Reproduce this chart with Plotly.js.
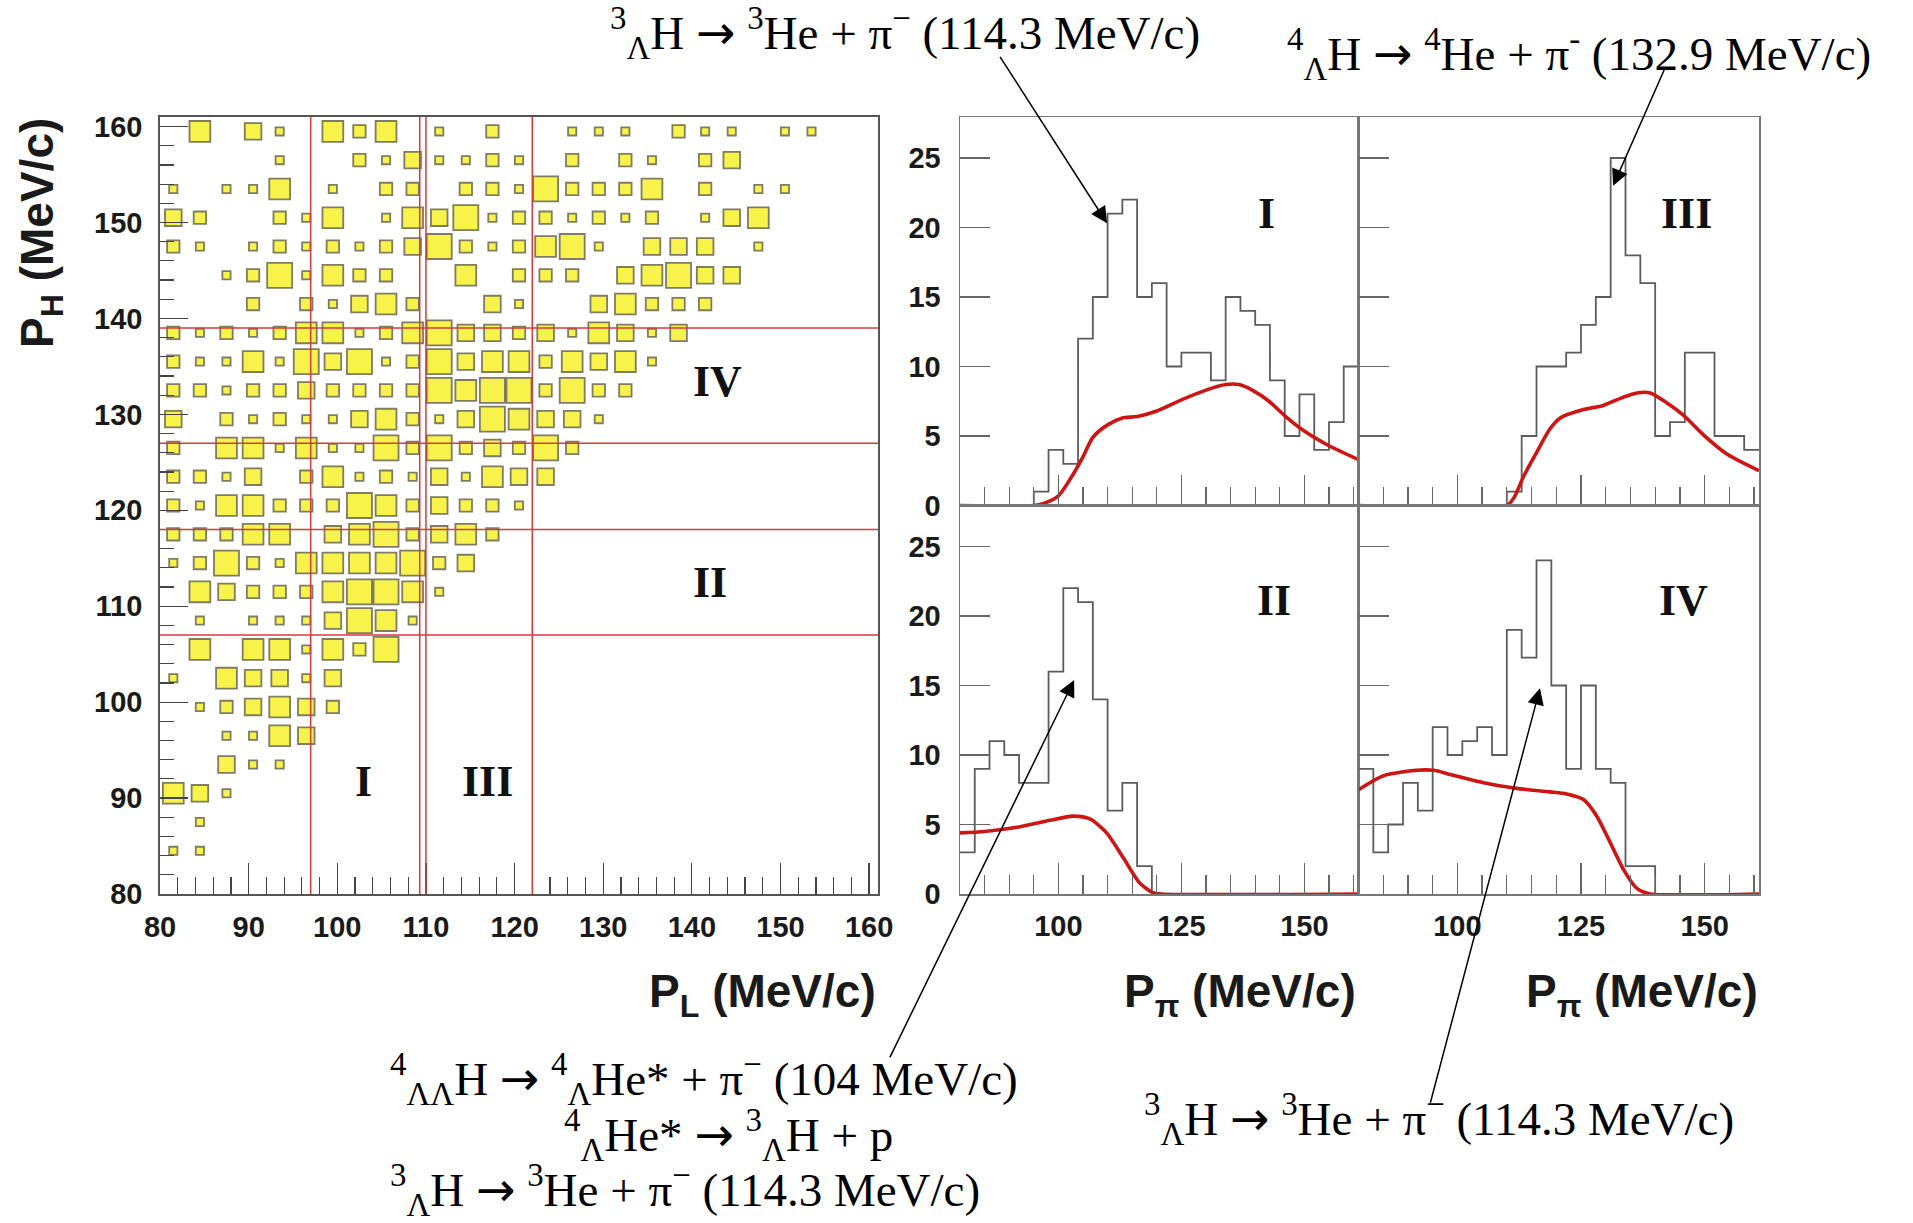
<!DOCTYPE html>
<html><head><meta charset="utf-8">
<script src="https://cdn.plot.ly/plotly-3.0.1.min.js"></script>
<style>html,body{margin:0;padding:0;background:#fff;} #chart{width:1913px;height:1223px;}</style>
</head><body><div id="chart"></div>
<script>
// ---------- binning (both 2D axes and P_pi histograms) ----------
const binLow = 80, binWidth = 3, nBins = 27;

// ---------- 2D box plot: box size class per cell, rows from top (P_H 159.5) to bottom (P_H 81.5), columns P_L 81.5 ... 159.5
const boxCounts = [
 [0,4,0,3,1,0,4,2,4,0,1,0,2,0,0,1,1,1,0,2,1,1,0,1,1,0,0],
 [0,0,0,0,1,0,0,2,1,3,1,1,2,1,0,2,0,2,1,0,2,3,0,0,0,0,0],
 [1,0,1,1,4,0,1,0,2,2,0,2,2,1,5,2,2,2,4,0,2,0,1,1,0,0,0],
 [3,2,0,0,2,1,4,0,1,4,3,5,1,2,2,1,2,1,2,0,1,3,4,0,0,0,0],
 [2,1,0,1,2,1,2,1,2,3,5,2,1,2,4,5,1,0,3,3,3,0,1,0,0,0,0],
 [0,0,1,2,5,1,4,2,2,0,0,4,0,2,2,2,0,3,4,5,3,3,0,0,0,0,0],
 [0,0,0,2,0,2,1,3,4,2,0,0,3,1,0,0,3,4,2,2,2,0,0,0,0,0,0],
 [2,1,2,1,2,4,4,1,2,4,5,3,3,2,3,1,4,3,1,3,0,0,0,0,0,0,0],
 [2,1,1,4,1,5,3,5,1,2,5,3,4,4,2,4,3,4,1,0,0,0,0,0,0,0,0],
 [2,2,1,2,2,3,2,2,2,2,5,4,5,5,2,5,2,2,0,0,0,0,0,0,0,0,0],
 [3,0,2,1,2,1,1,3,4,2,1,3,5,4,3,3,1,0,0,0,0,0,0,0,0,0,0],
 [2,0,4,4,1,4,1,1,5,2,5,2,3,2,5,2,0,0,0,0,0,0,0,0,0,0,0],
 [2,2,1,3,0,2,4,1,2,1,3,1,4,3,3,0,0,0,0,0,0,0,0,0,0,0,0],
 [2,1,4,4,2,2,2,5,4,2,3,2,2,1,0,0,0,0,0,0,0,0,0,0,0,0,0],
 [2,2,2,4,4,0,3,4,5,2,3,4,2,0,0,0,0,0,0,0,0,0,0,0,0,0,0],
 [1,2,5,2,1,4,4,4,4,5,2,3,0,0,0,0,0,0,0,0,0,0,0,0,0,0,0],
 [0,4,3,2,2,2,4,5,5,4,1,0,0,0,0,0,0,0,0,0,0,0,0,0,0,0,0],
 [0,1,0,1,1,1,3,5,4,1,0,0,0,0,0,0,0,0,0,0,0,0,0,0,0,0,0],
 [0,4,0,4,4,1,4,2,5,0,0,0,0,0,0,0,0,0,0,0,0,0,0,0,0,0,0],
 [1,0,4,3,3,1,3,0,0,0,0,0,0,0,0,0,0,0,0,0,0,0,0,0,0,0,0],
 [0,1,2,3,4,3,2,0,0,0,0,0,0,0,0,0,0,0,0,0,0,0,0,0,0,0,0],
 [0,0,1,1,4,3,0,0,0,0,0,0,0,0,0,0,0,0,0,0,0,0,0,0,0,0,0],
 [0,0,3,1,1,0,0,0,0,0,0,0,0,0,0,0,0,0,0,0,0,0,0,0,0,0,0],
 [4,3,1,0,0,0,0,0,0,0,0,0,0,0,0,0,0,0,0,0,0,0,0,0,0,0,0],
 [0,1,0,0,0,0,0,0,0,0,0,0,0,0,0,0,0,0,0,0,0,0,0,0,0,0,0],
 [1,1,0,0,0,0,0,0,0,0,0,0,0,0,0,0,0,0,0,0,0,0,0,0,0,0,0],
 [0,0,0,0,0,0,0,0,0,0,0,0,0,0,0,0,0,0,0,0,0,0,0,0,0,0,0]
];
// region cut lines
const cutPL = [97, 109.3, 110, 122];
const cutPH = [107, 118, 127, 139];

// ---------- P_pi histograms (counts per 3 MeV/c bin, 80..161) ----------
const histI   = [0,0,0,0,0,1,4,3,12,15,21,22,15,16,10,11,11,9,15,14,13,9,5,8,4,6,10];
const histIII = [0,0,0,0,0,0,0,0,0,0,1,5,10,10,11,13,15,25,18,16,5,6,11,11,5,5,4];
const histII  = [3,9,11,10,8,8,16,22,21,14,6,8,2,0,0,0,0,0,0,0,0,0,0,0,0,0,0];
const histIV  = [9,3,5,8,6,12,10,11,12,10,19,17,24,15,9,15,9,8,2,2,0,0,0,0,0,0,0];

// ---------- simulated (red) curves ----------
const fitI_x   = [80,95,97,100,102.4,105,107,110,113,116,120,125,130,134,136.7,139.4,142.8,146.2,150.2,155,161];
const fitI_y   = [0,0,0.15,0.7,1.9,3.5,4.9,5.8,6.3,6.4,6.8,7.6,8.3,8.7,8.7,8.3,7.5,6.4,5.3,4.3,3.3];
const fitIII_x = [80,110,111.5,113.4,116,118.7,120.8,125.5,129.5,133.6,136.3,139,142.3,145.7,149.7,154.5,161];
const fitIII_y = [0,0,0.6,2.1,3.8,5.5,6.3,6.9,7.2,7.8,8.1,8.1,7.4,6.5,5.1,3.7,2.5];
const fitII_x  = [80,85,91.6,98.3,103,106.4,109.8,113.2,116.5,119.2,121,161];
const fitII_y  = [4.4,4.5,4.8,5.3,5.6,5.4,4.4,2.6,0.8,0.1,0,0];
const fitIV_x  = [80,85,91.8,95.2,98.5,105.3,112,118.7,122.1,125.5,128.2,130.9,133.6,136.3,139,161];
const fitIV_y  = [7.5,8.5,8.9,8.9,8.6,8.0,7.6,7.35,7.2,6.8,5.6,3.7,1.75,0.4,0,0];

// ---------- texts ----------
const numerals2D = [{t:'IV',x:142.9,y:133.4},{t:'II',x:142,y:112.5},{t:'I',x:103,y:91.7},{t:'III',x:117,y:91.7}];
const AR = '<span style="font-family:DejaVu Sans">→</span>';
const reactions = {
  top1: '<sup>3</sup><sub>Λ</sub>H ' + AR + ' <sup>3</sup>He + π<sup>−</sup> (114.3 MeV/c)',
  top2: '<sup>4</sup><sub>Λ</sub>H ' + AR + ' <sup>4</sup>He + π<sup>-</sup> (132.9 MeV/c)',
  bot1: '<sup>4</sup><sub>ΛΛ</sub>H ' + AR + ' <sup>4</sup><sub>Λ</sub>He* + π<sup>−</sup> (104 MeV/c)',
  bot2: '<sup>4</sup><sub>Λ</sub>He* ' + AR + ' <sup>3</sup><sub>Λ</sub>H + p',
  bot3: '<sup>3</sup><sub>Λ</sub>H ' + AR + ' <sup>3</sup>He + π<sup>−</sup> (114.3 MeV/c)',
  botR: '<sup>3</sup><sub>Λ</sub>H ' + AR + ' <sup>3</sup>He + π<sup>−</sup> (114.3 MeV/c)'
};

// ---------- build traces ----------
const W = 1913, H = 1223;
const px = v => v / W, py = v => 1 - v / H;
const binEdges = Array.from({length: nBins + 1}, (_, k) => binLow + binWidth * k);

const bx = [], by = [], bs = [];
boxCounts.forEach((row, i) => {
  const r = nBins - 1 - i;
  row.forEach((n, c) => {
    if (n > 0) {
      bx.push(binLow + binWidth * (c + 0.5));
      by.push(binLow + binWidth * (r + 0.5));
      bs.push(4 + 4.2 * n);
    }
  });
});

const traces = [{
  type: 'scatter', mode: 'markers', x: bx, y: by, xaxis: 'x', yaxis: 'y',
  marker: {symbol: 'square', size: bs, color: '#f6ee00', line: {color: '#4a4520', width: 1.8}},
  hoverinfo: 'skip', showlegend: false
}];

function stepTrace(counts, xa, ya) {
  return {type: 'scatter', mode: 'lines', x: binEdges, y: counts.concat([counts[counts.length - 1]]),
    xaxis: xa, yaxis: ya, line: {shape: 'hv', color: '#5c5c5c', width: 1.8}, showlegend: false, hoverinfo: 'skip'};
}
function fitTrace(xs, ys, xa, ya) {
  return {type: 'scatter', mode: 'lines', x: xs, y: ys, xaxis: xa, yaxis: ya,
    line: {shape: 'spline', smoothing: 0.7, color: '#cf1414', width: 3.6}, showlegend: false, hoverinfo: 'skip'};
}
traces.push(stepTrace(histI, 'x2', 'y2'), fitTrace(fitI_x, fitI_y, 'x2', 'y2'));
traces.push(stepTrace(histIII, 'x3', 'y3'), fitTrace(fitIII_x, fitIII_y, 'x3', 'y3'));
traces.push(stepTrace(histII, 'x4', 'y4'), fitTrace(fitII_x, fitII_y, 'x4', 'y4'));
traces.push(stepTrace(histIV, 'x5', 'y5'), fitTrace(fitIV_x, fitIV_y, 'x5', 'y5'));

// ---------- axes ----------
const sans = 'Liberation Sans, Arial, Helvetica, sans-serif';
const serif = 'Liberation Serif, Times New Roman, serif';
const tickFont = {family: sans, size: 29, color: '#1a1a1a', weight: 'bold'};
const dom2DX = [px(160), px(878)], dom2DY = [py(894), py(117)];
const domHX1 = [px(960), px(1358.5)], domHX2 = [px(1358.5), px(1759)];
const domHYt = [py(505.5), py(117)], domHYb = [py(894), py(505.5)];

function ax2D(domain, anchor, isY) {
  return {domain, anchor, range: [80, 161], showline: true, mirror: true, linecolor: '#555', linewidth: 1.8,
    ticks: 'inside', ticklen: isY ? 28 : 31, tickwidth: 1.3, tickcolor: '#444',
    tickmode: 'linear', tick0: 80, dtick: 10,
    minor: {ticks: 'inside', ticklen: isY ? 14 : 17, tickwidth: 1.2, tickcolor: '#444', tickmode: 'linear', tick0: 80, dtick: 2, showgrid: false},
    showgrid: false, zeroline: false, tickfont: tickFont, ticklabelstandoff: isY ? 10 : 6};
}
function histX(domain, anchor, labels) {
  return {domain, anchor, range: [80, 161], showline: true, mirror: true, linecolor: '#777', linewidth: 1.5,
    ticks: 'inside', ticklen: 31, tickwidth: 1.3, tickcolor: '#666', tickmode: 'linear', tick0: 0, dtick: 25,
    minor: {ticks: 'inside', ticklen: 19, tickwidth: 1.3, tickcolor: '#666', tickmode: 'linear', tick0: 0, dtick: 5, showgrid: false},
    showgrid: false, zeroline: false, showticklabels: labels, tickfont: tickFont, ticklabelstandoff: 6};
}
function histY(domain, anchor, labels) {
  return {domain, anchor, range: [0, 27.95], showline: true, mirror: true, linecolor: '#777', linewidth: 1.5,
    ticks: 'inside', ticklen: 30, tickwidth: 1.3, tickcolor: '#666', tickmode: 'linear', tick0: 0, dtick: 5,
    showgrid: false, zeroline: false, showticklabels: labels, tickfont: tickFont, ticklabelstandoff: 12};
}

// ---------- shapes: cut lines ----------
const shapes = [];
cutPL.forEach(v => shapes.push({type: 'line', xref: 'x', yref: 'y domain', x0: v, x1: v, y0: 0, y1: 1, line: {color: '#d23c3c', width: 1.5}}));
cutPH.forEach(v => shapes.push({type: 'line', xref: 'x domain', yref: 'y', x0: 0, x1: 1, y0: v, y1: v, line: {color: '#d23c3c', width: 1.5}}));

// ---------- annotations ----------
const ann = [];
const titleFont = {family: sans, size: 46, color: '#1a1a1a', weight: 'bold'};
ann.push({text: 'P<sub>L</sub> (MeV/c)', xref: 'paper', yref: 'paper', x: px(878), y: py(994), xanchor: 'right', yanchor: 'middle', showarrow: false, font: titleFont});
ann.push({text: 'P<sub>π</sub> (MeV/c)', xref: 'paper', yref: 'paper', x: px(1358), y: py(994), xanchor: 'right', yanchor: 'middle', showarrow: false, font: titleFont});
ann.push({text: 'P<sub>π</sub> (MeV/c)', xref: 'paper', yref: 'paper', x: px(1760), y: py(994), xanchor: 'right', yanchor: 'middle', showarrow: false, font: titleFont});
ann.push({text: 'P<sub>H</sub> (MeV/c)', xref: 'paper', yref: 'paper', x: px(40), y: py(116), xanchor: 'center', yanchor: 'top', textangle: -90, showarrow: false, font: titleFont});

const numFont = {family: serif, size: 44, color: '#111', weight: 'bold'};
numerals2D.forEach(n => ann.push({text: n.t, xref: 'x', yref: 'y', x: n.x, y: n.y, showarrow: false, font: numFont}));
ann.push({text: 'I', xref: 'x2', yref: 'y2', x: 142.4, y: 21.0, showarrow: false, font: numFont});
ann.push({text: 'III', xref: 'x3', yref: 'y3', x: 146.4, y: 21.0, showarrow: false, font: numFont});
ann.push({text: 'II', xref: 'x4', yref: 'y4', x: 143.8, y: 21.1, showarrow: false, font: numFont});
ann.push({text: 'IV', xref: 'x5', yref: 'y5', x: 145.8, y: 21.1, showarrow: false, font: numFont});

const rxFont = {family: serif, size: 47, color: '#000'};
ann.push({text: reactions.top1, xref: 'paper', yref: 'paper', x: px(608), y: py(33), xanchor: 'left', yanchor: 'middle', showarrow: false, font: rxFont});
ann.push({text: reactions.top2, xref: 'paper', yref: 'paper', x: px(1285), y: py(54), xanchor: 'left', yanchor: 'middle', showarrow: false, font: rxFont});
ann.push({text: reactions.bot1, xref: 'paper', yref: 'paper', x: px(388), y: py(1079), xanchor: 'left', yanchor: 'middle', showarrow: false, font: rxFont});
ann.push({text: reactions.bot2, xref: 'paper', yref: 'paper', x: px(728), y: py(1135), xanchor: 'center', yanchor: 'middle', showarrow: false, font: rxFont});
ann.push({text: reactions.bot3, xref: 'paper', yref: 'paper', x: px(388), y: py(1190), xanchor: 'left', yanchor: 'middle', showarrow: false, font: rxFont});
ann.push({text: reactions.botR, xref: 'paper', yref: 'paper', x: px(1142), y: py(1119), xanchor: 'left', yanchor: 'middle', showarrow: false, font: rxFont});

const arrowStyle = {text: '', showarrow: true, arrowhead: 2, arrowsize: 2.2, arrowwidth: 1.5, arrowcolor: '#000', standoff: 0};
ann.push(Object.assign({xref: 'x2', yref: 'y2', x: 109.9, y: 20.3, ax: -108, ay: -168}, arrowStyle));
ann.push(Object.assign({xref: 'x3', yref: 'y3', x: 131.5, y: 23.0, ax: 52, ay: -118}, arrowStyle));
ann.push(Object.assign({xref: 'x4', yref: 'y4', x: 103.2, y: 15.4, ax: -185, ay: 379}, arrowStyle));
ann.push(Object.assign({xref: 'x5', yref: 'y5', x: 116.7, y: 14.8, ax: -110, ay: 416}, arrowStyle));

const layout = {
  width: W, height: H, margin: {l: 0, r: 0, t: 0, b: 0}, paper_bgcolor: '#fff', plot_bgcolor: '#fff',
  showlegend: false,
  xaxis: ax2D(dom2DX, 'y', false), yaxis: ax2D(dom2DY, 'x', true),
  xaxis2: histX(domHX1, 'y2', false), yaxis2: histY(domHYt, 'x2', true),
  xaxis3: histX(domHX2, 'y3', false), yaxis3: histY(domHYt, 'x3', false),
  xaxis4: histX(domHX1, 'y4', true), yaxis4: histY(domHYb, 'x4', true),
  xaxis5: histX(domHX2, 'y5', true), yaxis5: histY(domHYb, 'x5', false),
  shapes: shapes, annotations: ann
};
Plotly.newPlot('chart', traces, layout, {staticPlot: true, displayModeBar: false});
</script></body></html>
